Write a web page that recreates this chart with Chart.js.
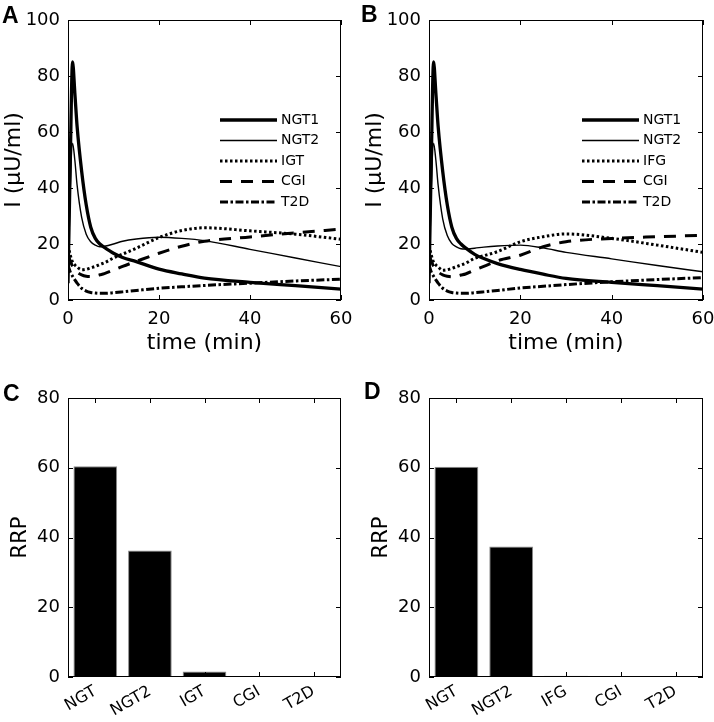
<!DOCTYPE html>
<html>
<head>
<meta charset="utf-8">
<script src="https://cdn.jsdelivr.net/npm/chart.js@4.4.0/dist/chart.umd.min.js"></script>
<style>
  body { margin: 0; background: #fff; }
  #fig { position: relative; width: 714px; height: 722px; }
  .panel { position: absolute; }
  .tag { position: absolute; font: bold 23px "Liberation Sans", Arial, sans-serif; line-height: 23px; color: #000; }
</style>
</head>
<body>
<div id="fig">
  <canvas id="chartA" class="panel" width="357" height="361" style="left:0;top:0"></canvas>
  <canvas id="chartB" class="panel" width="357" height="361" style="left:357px;top:0"></canvas>
  <canvas id="chartC" class="panel" width="357" height="361" style="left:0;top:361px"></canvas>
  <canvas id="chartD" class="panel" width="357" height="361" style="left:357px;top:361px"></canvas>
  <div class="tag" style="left:2px;top:4px">A</div>
  <div class="tag" style="left:361px;top:3px">B</div>
  <div class="tag" style="left:3px;top:382px">C</div>
  <div class="tag" style="left:364px;top:380px">D</div>
</div>
<script>
// --- DATA ---
const time = [0, 0.5, 1, 1.5, 2, 3, 4, 5, 6, 7, 8, 10, 12, 15, 20, 25, 30, 40, 50, 60];

// panel A
const ngt1A = [6, 50, 85, 74, 62, 46, 34, 26, 22, 20, 18.8, 16.7, 15.2, 13.7, 11, 9.3, 7.8, 6.3, 5.1, 3.9];
const ngt2A = [6, 40, 56, 50, 41, 29.5, 23.5, 20.8, 19.6, 19, 19.2, 20, 21, 21.8, 22.4, 22, 21.2, 18.1, 15, 11.9];
const igtA  = [19.5, 16, 13.5, 12.5, 11.8, 10.8, 11, 11.5, 12, 12.7, 13.3, 15, 16.4, 18.5, 22.3, 24.8, 25.8, 24.7, 23.5, 21.7];
const cgiA  = [16, 14, 12, 11, 10, 9, 8.5, 8.4, 8.6, 9, 9.4, 10.7, 12, 13.8, 16.7, 19.2, 21, 22.5, 24, 25.3];
const t2dA  = [12.5, 10, 8.5, 7.2, 6, 4.2, 3.2, 2.7, 2.5, 2.4, 2.4, 2.6, 2.9, 3.4, 4.2, 4.7, 5.2, 6, 6.8, 7.4];

// panel B
const ngt1B = [6, 50, 85, 74, 62, 46, 34, 26, 22, 20, 18.6, 16.3, 14.8, 13, 10.9, 9.2, 7.7, 6.3, 5.1, 3.9];
const ngt2B = [6, 40, 56, 50, 41, 29, 23, 20.2, 19, 18.3, 18.2, 18.5, 18.9, 19.3, 19.6, 18.6, 17, 14.7, 12.3, 10.1];
const ifgB  = [19.5, 16, 13.5, 12.5, 11.8, 10.6, 10.8, 11.3, 11.9, 12.5, 13.1, 14.9, 15.8, 17.3, 20.8, 22.6, 23.6, 22, 19.6, 17];
const cgiB  = [16, 14, 12, 11, 10, 9, 8.5, 8.3, 8.5, 8.9, 9.3, 10.7, 12, 14, 16, 19, 20.8, 22, 22.6, 23.1];
const t2dB  = [12.5, 10, 8.5, 7.2, 6, 4.2, 3.2, 2.7, 2.5, 2.4, 2.4, 2.6, 2.9, 3.4, 4.3, 4.9, 5.5, 6.5, 7.3, 8];

const seriesA = ['NGT1', 'NGT2', 'IGT', 'CGI', 'T2D'];
const seriesB = ['NGT1', 'NGT2', 'IFG', 'CGI', 'T2D'];
const timeTicks = [0, 20, 40, 60];
const insulinTicks = [0, 20, 40, 60, 80, 100];

// panels C, D
const groupsC = ['NGT', 'NGT2', 'IGT', 'CGI', 'T2D'];
const rrpC = [60.4, 36.3, 1.6, 0.3, 0.3];
const groupsD = ['NGT', 'NGT2', 'IFG', 'CGI', 'T2D'];
const rrpD = [60.3, 37.4, 0.35, 0.3, 0.3];
const rrpTicks = [0, 20, 40, 60, 80];

// --- STYLE ---
Chart.defaults.font.family = '"DejaVu Sans", sans-serif';
Chart.defaults.color = '#000';

const lineStyles = [
    { width: 3.3, dash: [] },
    { width: 1.4, dash: [] },
    { width: 3, dash: [2.5, 2.5] },
    { width: 3, dash: [12, 9] },
    { width: 3, dash: [8, 2.5, 2.5, 2.5] }
];

// fixed axis sizes, no label overhang padding (keeps plot boxes where they belong)
const fixSize = (prop, size) => s => {
    s[prop] = size;
    s.paddingLeft = 0; s.paddingRight = 0;
    s.paddingTop = 0; s.paddingBottom = 0;
};

// matlab-ish box with inward ticks
const boxPlugin = {
    id: 'box',
    afterDatasetsDraw(chart) {
        const { ctx, chartArea: a, scales: { x, y } } = chart;
        const len = 5;
        ctx.save();
        ctx.strokeStyle = '#000';
        ctx.lineWidth = 1;
        ctx.setLineDash([]);
        ctx.strokeRect(a.left + 0.5, a.top + 0.5, a.right - a.left - 1, a.bottom - a.top - 1);
        ctx.beginPath();
        x.ticks.forEach((t, i) => {
            const px = Math.round(x.getPixelForTick(i)) + 0.5;
            ctx.moveTo(px, a.bottom); ctx.lineTo(px, a.bottom - len);
            ctx.moveTo(px, a.top); ctx.lineTo(px, a.top + len);
        });
        y.ticks.forEach((t, i) => {
            const py = Math.round(y.getPixelForTick(i)) + 0.5;
            ctx.moveTo(a.left, py); ctx.lineTo(a.left + len, py);
            ctx.moveTo(a.right, py); ctx.lineTo(a.right - len, py);
        });
        ctx.stroke();
        ctx.restore();
    }
};

// legend drawn inside the plot area
const insideLegend = {
    id: 'insideLegend',
    afterDraw(chart, args, opts) {
        if (!opts.show) return;
        const { ctx, chartArea: a } = chart;
        chart.data.datasets.forEach((ds, i) => {
            const y = a.top + opts.top + i * opts.gap;
            ctx.save();
            ctx.strokeStyle = '#000';
            ctx.lineWidth = ds.borderWidth;
            ctx.setLineDash(ds.borderDash || []);
            ctx.beginPath();
            ctx.moveTo(a.right - 121, y);
            ctx.lineTo(a.right - 64, y);
            ctx.stroke();
            ctx.fillStyle = '#000';
            ctx.font = '14px "DejaVu Sans"';
            ctx.textBaseline = 'middle';
            ctx.fillText(ds.label, a.right - 60, y);
            ctx.restore();
        });
    }
};

function lineChart(id, names, values, yAxisWidth, padRight, titlePad) {
    const datasets = names.map((name, i) => ({
        label: name,
        data: time.map((t, k) => ({ x: t, y: values[i][k] })),
        borderColor: '#000',
        borderWidth: lineStyles[i].width,
        borderDash: lineStyles[i].dash,
        pointRadius: 0,
        fill: false,
        cubicInterpolationMode: 'monotone'
    }));
    return new Chart(document.getElementById(id), {
        type: 'line',
        data: { datasets },
        options: {
            responsive: false,
            animation: false,
            layout: { padding: { left: 0, top: 20, right: padRight, bottom: 0 } },
            plugins: {
                legend: { display: false },
                tooltip: { enabled: false },
                insideLegend: { show: true, top: 100, gap: 20.5 }
            },
            scales: {
                x: {
                    type: 'linear', min: 0, max: 60,
                    afterBuildTicks: s => { s.ticks = timeTicks.map(v => ({ value: v })); },
                    afterFit: fixSize('height', 61),
                    grid: { display: false, drawTicks: false },
                    border: { display: false },
                    ticks: { padding: 9, font: { size: 18 }, color: '#000' },
                    title: { display: true, text: 'time (min)', font: { size: 22 }, color: '#000', padding: { top: 0, bottom: 5 } }
                },
                y: {
                    min: 0, max: 100,
                    afterBuildTicks: s => { s.ticks = insulinTicks.map(v => ({ value: v })); },
                    afterFit: fixSize('width', yAxisWidth),
                    grid: { display: false, drawTicks: false },
                    border: { display: false },
                    ticks: { padding: 8, font: { size: 18 }, color: '#000' },
                    title: { display: true, text: 'I (μU/ml)', font: { size: 22 }, color: '#000', padding: { top: titlePad, bottom: 0 } }
                }
            }
        },
        plugins: [boxPlugin, insideLegend]
    });
}

function barChart(id, groups, values, yAxisWidth, padRight, titlePad) {
    return new Chart(document.getElementById(id), {
        type: 'bar',
        data: {
            labels: groups,
            datasets: [{
                data: values,
                backgroundColor: '#000',
                borderColor: '#8a8a8a',
                borderWidth: 1,
                barPercentage: 0.8,
                categoryPercentage: 1
            }]
        },
        options: {
            responsive: false,
            animation: false,
            layout: { padding: { left: 0, top: 37, right: padRight, bottom: 0 } },
            plugins: { legend: { display: false }, tooltip: { enabled: false } },
            scales: {
                x: {
                    afterFit: fixSize('height', 45),
                    grid: { display: false, drawTicks: false },
                    border: { display: false },
                    ticks: { padding: 5, minRotation: 30, maxRotation: 30, font: { size: 16 }, color: '#000' }
                },
                y: {
                    min: 0, max: 80,
                    afterBuildTicks: s => { s.ticks = rrpTicks.map(v => ({ value: v })); },
                    afterFit: fixSize('width', yAxisWidth),
                    grid: { display: false, drawTicks: false },
                    border: { display: false },
                    ticks: { padding: 8, font: { size: 18 }, color: '#000' },
                    title: { display: true, text: 'RRP', font: { size: 21 }, color: '#000', padding: { top: titlePad, bottom: 0 } }
                }
            }
        },
        plugins: [boxPlugin]
    });
}

lineChart('chartA', seriesA, [ngt1A, ngt2A, igtA, cgiA, t2dA], 68, 16, 1);
lineChart('chartB', seriesB, [ngt1B, ngt2B, ifgB, cgiB, t2dB], 72, 11, 5);
barChart('chartC', groupsC, rrpC, 68, 16, 8);
barChart('chartD', groupsD, rrpD, 72, 11, 12);
</script>
</body>
</html>
